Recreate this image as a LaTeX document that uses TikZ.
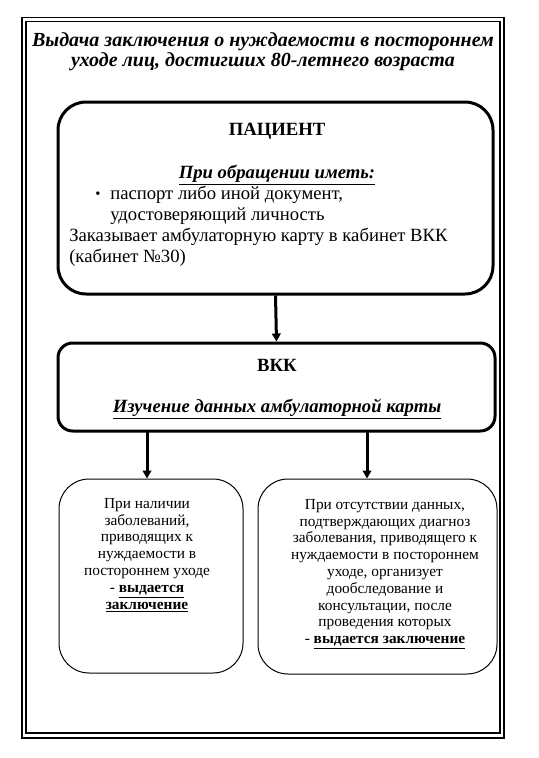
\documentclass[tikz,border=0pt]{standalone}
\usepackage{fontspec}
\setmainfont{Liberation Serif}
\usepackage{tikz}
\usetikzlibrary{arrows.meta}

\begin{document}
\begin{tikzpicture}
	[x=0.75pt,y=-0.75pt,
	frame/.style = {
		draw, line width=1.1pt
	},
	bigbox/.style = {
		draw, line width=2.25pt, inner sep=0pt
	},
	smallbox/.style = {
		draw, line width=0.75pt, rounded corners=22.5pt, inner sep=0pt
	},
	bigtext/.style = {
		inner sep=0pt, font=\fontsize{14}{16.1}\selectfont
	},
	smalltext/.style = {
		inner sep=0pt, align=center, font=\fontsize{11.5}{12.6}\selectfont
	},
	arr/.style = {
		line width=2.25pt, -{Triangle[length=6pt,width=6.5pt]}
	}]
	\useasboundingbox (0,0) rectangle (539,758);

	%Draw frame
	\draw[frame] (22,17.5) rectangle (504,738);
	\draw[frame] (26,21.5) rectangle (500,733);

	%Draw nodes
	\node[bigtext, align=center, anchor=north,
	font=\fontsize{15}{15.3}\selectfont] at (263,32) (title)
	{\textbf{\textit{Выдача заключения о нуждаемости в постороннем}}\\
	\textbf{\textit{уходе лиц, достигших 80-летнего возраста}}};

	\node[bigbox, rounded corners=21pt, minimum width=326.25pt,
	minimum height=144pt] at (275.5,198) (pat) {};
	\node[bigtext, anchor=base] at (277,135) (patname) {\textbf{ПАЦИЕНТ}};
	\node[bigtext, anchor=base] at (277,178) (have)
	{\underline{\textbf{\textit{При обращении иметь:}}}};
	\node[bigtext, anchor=base west, font=\fontsize{11}{12}\selectfont] at (95,198) (bul) {•};
	\node[bigtext, anchor=base west] at (110,199) (doc1) {паспорт либо иной документ,};
	\node[bigtext, anchor=base west] at (110,220) (doc2) {удостоверяющий личность};
	\node[bigtext, anchor=base west] at (69,241) (ord1) {Заказывает амбулаторную карту в кабинет ВКК};
	\node[bigtext, anchor=base west] at (69,262) (ord2) {(кабинет №30)};

	\node[bigbox, rounded corners=11pt, minimum width=327.75pt,
	minimum height=66pt] at (276.5,387) (vkk) {};
	\node[bigtext, anchor=base] at (277,371) (vkkname) {\textbf{ВКК}};
	\node[bigtext, anchor=base] at (277,412) (study)
	{\underline{\textbf{\textit{Изучение данных амбулаторной карты}}}};

	\node[smallbox, minimum width=138pt, minimum height=145.5pt] at (151,576) (lbox) {};
	\node[smalltext, anchor=north] at (147,498) (ltext)
	{При наличии\\ заболеваний,\\ приводящих к\\ нуждаемости в\\ постороннем уходе\\
	- \underline{\textbf{выдается}}\\ \underline{\textbf{заключение}}};

	\node[smallbox, minimum width=179.25pt, minimum height=146.25pt] at (377.5,576.5) (rbox) {};
	\node[smalltext, anchor=north] at (385,499) (rtext)
	{При отсутствии данных,\\ подтверждающих диагноз\\ заболевания, приводящего к\\
	нуждаемости в постороннем\\ уходе, организует\\ дообследование и\\
	консультации, после\\ проведения которых\\ - \underline{\textbf{выдается заключение}}};

	\coordinate (vl) at (147,431);
	\coordinate (vr) at (367,431);

	%Draw arrows
	\draw[arr] (pat.south) -- (vkk.north);
	\draw[arr] (vl) -- (vl |- lbox.north);
	\draw[arr] (vr) -- (vr |- rbox.north);
\end{tikzpicture}
\end{document}
